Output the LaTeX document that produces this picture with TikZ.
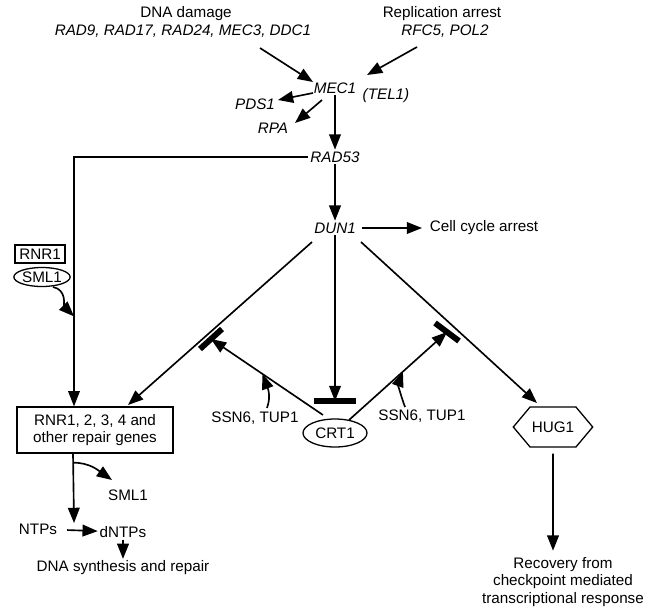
\documentclass[tikz,border=0pt]{standalone}
\usepackage{fontspec}
\setmainfont{Liberation Sans}
\usepackage{tikz}
\usetikzlibrary{arrows, arrows.meta}
\usetikzlibrary{positioning, calc, shapes.geometric, shapes.symbols}

\begin{document}
\begin{tikzpicture}[x=0.03cm, y=-0.03cm,
  every node/.style={font=\fontsize{13}{15}\selectfont, inner sep=1.5pt},
  gene/.style={font=\fontsize{13}{15}\selectfont\itshape},
  arr/.style={-{Triangle[length=13pt,width=10pt]}, line width=1.4pt},
  inhib/.style={line width=5pt},
  genebox/.style={draw, line width=1.1pt, align=center},
  protein/.style={ellipse, draw, line width=1.1pt, inner sep=0pt}]
\useasboundingbox (0,0) rectangle (654,608);

\node (dmg) at (186,14) {DNA damage};
\node[gene] (dmggenes) at (183,31) {RAD9, RAD17, RAD24, MEC3, DDC1};
\node (rep) at (442,14) {Replication arrest};
\node[gene] (repgenes) at (445,31) {RFC5, POL2};
\node[gene] (mec) at (335,88) {MEC1};
\node[gene] (tel) at (386,96) {(TEL1)};
\node[gene] (pds) at (255,104) {PDS1};
\node[gene] (rpa) at (273,128) {RPA};
\node[gene] (rad) at (335,157) {RAD53};
\node[gene] (dun) at (335,228) {DUN1};
\node (arrest) at (484,228) {Cell cycle arrest};
\node[genebox, minimum width=1.5cm, minimum height=0.54cm] (rnrone) at (40,254) {RNR1};
\node[protein, minimum width=1.5cm, minimum height=0.57cm] (smlone) at (42,277) {SML1};
\node[genebox, minimum width=4.68cm, minimum height=1.38cm] (repair) at (95,430) {RNR1, 2, 3, 4 and\\other repair genes};
\node[protein, minimum width=1.92cm, minimum height=0.84cm] (crt) at (335,433) {CRT1};
\node[signal, signal to=east and west, signal pointer angle=100, draw, line width=1.1pt,
  minimum width=1.92cm, minimum height=1.2cm] (hug) at (553,427) {HUG1};
\node[align=center] (recov) at (563,582) {Recovery from\\checkpoint mediated\\transcriptional response};
\node (ssnl) at (255,418) {SSN6, TUP1};
\node (ssnr) at (422,416) {SSN6, TUP1};
\node (smltwo) at (128,495) {SML1};
\node (ntp) at (38,529) {NTPs};
\node (dntp) at (123,532) {dNTPs};
\node (synth) at (123,568) {DNA synthesis and repair};

\coordinate (barl) at (211,339);
\coordinate (barm) at (335,401);
\coordinate (barr) at (447,332);
\coordinate (crtl) at ($(crt)+(-12,-18)$);
\coordinate (crtr) at ($(crt)+(14,-13)$);

\draw[arr] ($(dmggenes)+(77,17)$) -- ($(mec)+(-22,-6)$);
\draw[arr] ($(repgenes)+(-28,16)$) -- ($(mec)+(32,-13)$);
\draw[arr] ($(mec)+(-22,5)$) -- ($(pds)+(23,-4)$);
\draw[arr] ($(mec)+(-13,12)$) -- ($(rpa)+(22,-5)$);
\draw[arr] (mec) -- (rad);
\draw[arr] (rad) -- (dun);
\draw[arr, shorten <=4pt, shorten >=5pt] (dun) -- (arrest);
\draw[arr, line width=1pt] (rad.west) -| ($(repair.north)+(-21,0)$);
\draw[arr] ($(smlone)+(11,10)$) to[out=-10,in=135] ($(repair.north)+(-21,-90)$);

\draw[arr] ($(dun)+(-23,14)$) -- ($(repair)+(33,-25)$);
\draw[arr] (dun) -- (barm);
\draw[arr] ($(dun)+(26,14)$) -- ($(hug)+(-16,-24)$);
\draw[inhib] ($(barl)+(-11,10)$) -- ($(barl)+(11,-10)$);
\draw[inhib] ($(barm)+(-21,0)$) -- ($(barm)+(21,0)$);
\draw[inhib] ($(barr)+(-12,-9)$) -- ($(barr)+(12,9)$);
\draw[arr] (crtl) -- (barl);
\draw[arr] (crtr) -- (barr);
\draw[arr] ($(ssnl)+(12,-10)$) to[out=70,in=-70] ($(crtl)!0.54!(barl)$);
\draw[arr] ($(ssnr)+(-17,-9)$) to[out=110,in=-110] ($(crtr)!0.55!(barr)$);

\draw[arr] ($(repair.south)+(-22,0)$) -- ($(ntp.east)+(15,-6)$);
\draw[arr] ($(repair.south)+(-22,9)$) to[out=0,in=145] ($(smltwo)+(-16,-15)$);
\draw[arr, shorten <=7pt] (ntp) -- (dntp);
\draw[arr] (dntp) -- (synth);
\draw[arr, shorten <=5pt, shorten >=4pt] (hug) -- (hug |- recov.north);
\end{tikzpicture}
\end{document}
